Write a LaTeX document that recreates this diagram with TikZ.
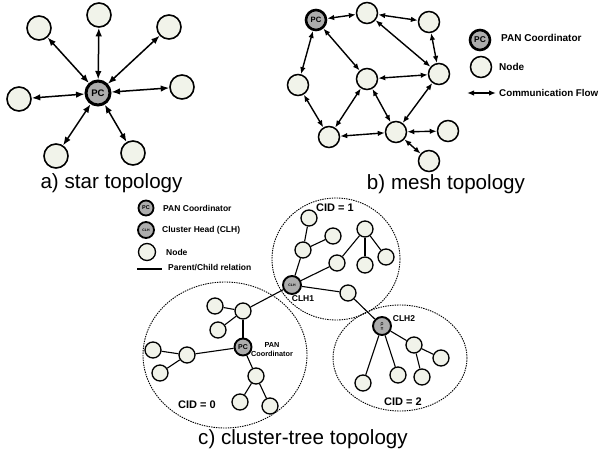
\documentclass[tikz,border=0pt]{standalone}
\usepackage{fontspec}
\setmainfont{Liberation Sans}
\usetikzlibrary{arrows.meta}
\definecolor{nodefill}{HTML}{F1F3EA}
\definecolor{pcfill}{HTML}{ADADAD}
\newcommand\topofont{\fontsize{20.6}{24}\selectfont}
\newcommand\legfont[1]{\bfseries\fontsize{#1}{#1}\selectfont}

\begin{document}
\begin{tikzpicture}[x=1pt,y=-1pt,
  nd/.style={circle,draw,line width=1.3pt,fill=nodefill,inner sep=0pt,minimum size=#1},
  nd/.default=16pt,
  hub/.style={circle,draw,line width=2.2pt,fill=pcfill,inner sep=0pt,minimum size=#1},
  hub/.default=16pt,
  flow/.style={{Latex[length=8.5pt,width=6.5pt]}-{Latex[length=8.5pt,width=6.5pt]},line width=1.5pt},
  mflow/.style={{Latex[length=7pt,width=5.5pt]}-{Latex[length=7pt,width=5.5pt]},line width=1.4pt},
  tie/.style={line width=1.1pt},
  cluster/.style={draw,line width=0.9pt,dash pattern=on 1.4pt off 1pt},
  lbl/.style={font=\legfont{8.5}},
  title/.style={anchor=base,font=\topofont}]
  \useasboundingbox (0,0) rectangle (602,452);

  % a) star
  \node[hub=24pt,line width=3pt,font=\legfont{9.5}] (spc) at (98,93) {PC};
  \node[nd=24pt,line width=1.6pt] (s1) at (39,28) {};
  \node[nd=24pt,line width=1.6pt] (s2) at (99,15) {};
  \node[nd=24pt,line width=1.6pt] (s3) at (169,27) {};
  \node[nd=24pt,line width=1.6pt] (s4) at (182,87) {};
  \node[nd=24pt,line width=1.6pt] (s5) at (133,153) {};
  \node[nd=24pt,line width=1.6pt] (s6) at (56,156) {};
  \node[nd=24pt,line width=1.6pt] (s7) at (19,99) {};
  \foreach \i in {1,...,7}
    \draw[flow] (spc) -- (s\i);
  \node[title] (ta) at (111.5,188) {a) star topology};

  % b) mesh
  \node[hub=20pt,line width=2.6pt,font=\legfont{7.7}] (mpc) at (316,20) {PC};
  \node[nd=21pt,line width=1.5pt] (m1) at (367,13) {};
  \node[nd=21pt,line width=1.5pt] (m2) at (429,22) {};
  \node[nd=21pt,line width=1.5pt] (m3) at (439,74) {};
  \node[nd=21pt,line width=1.5pt] (m4) at (367,79) {};
  \node[nd=21pt,line width=1.5pt] (m5) at (298,85) {};
  \node[nd=21pt,line width=1.5pt] (m6) at (329,137) {};
  \node[nd=21pt,line width=1.5pt] (m7) at (396,132) {};
  \node[nd=21pt,line width=1.5pt] (m8) at (448,131) {};
  \node[nd=21pt,line width=1.5pt] (m9) at (429,161) {};
  \foreach \a/\b in {mpc/m1,m1/m2,m2/m3,m1/m3,mpc/m4,mpc/m5,m4/m3,m5/m6,
                     m6/m4,m4/m7,m6/m7,m3/m7,m7/m8,m7/m9}
    \draw[mflow] (\a) -- (\b);
  \node[title] (tb) at (446,189) {b) mesh topology};

  % mesh legend
  \node[hub=20pt,line width=2.6pt,font=\legfont{8.4}] (lpc) at (480,40) {PC};
  \node[anchor=west,inner sep=0pt,font=\legfont{10}] (lpct) at (501,38) {PAN Coordinator};
  \node[nd=21pt,line width=1.5pt] (lnd) at (481,67) {};
  \node[anchor=west,inner sep=0pt,font=\legfont{10}] (lndt) at (499,67) {Node};
  \coordinate (fa) at (467,93);
  \coordinate (fb) at (496,93);
  \draw[mflow] (fa) -- (fb);
  \node[anchor=west,inner sep=0pt,font=\legfont{9.8}] (lflt) at (499,93) {Communication Flow};

  % c) cluster-tree legend
  \node[hub=15pt,line width=1.8pt,font=\legfont{5.5}] (kpc) at (146,208) {PC};
  \node[lbl,anchor=west,inner sep=0pt] (kpct) at (163,208) {PAN Coordinator};
  \node[hub=16pt,line width=1.8pt,font=\legfont{3.5}] (kclh) at (146,230) {CLH};
  \node[lbl,anchor=west,inner sep=0pt] (kclht) at (162,230) {Cluster Head (CLH)};
  \node[nd=17pt] (knd) at (147,252) {};
  \node[lbl,anchor=west,inner sep=0pt] (kndt) at (166,252) {Node};
  \coordinate (ka) at (137,269);
  \coordinate (kb) at (162,269);
  \draw[tie] (ka) -- (kb);
  \node[lbl,anchor=west,inner sep=0pt] (kpt) at (168,268) {Parent/Child relation};

  % clusters
  \draw[cluster] (225,355) ellipse [x radius=82,y radius=73];
  \draw[cluster] (336,259) ellipse [x radius=64,y radius=61];
  \draw[cluster] (400,358) ellipse [x radius=67,y radius=53];

  % CID = 0
  \node[hub=17pt,line width=1.9pt,font=\legfont{7}] (pc0) at (243,347) {PC};
  \node[nd] (t0a) at (243,311) {};
  \node[nd] (t0b) at (215,306) {};
  \node[nd] (t0c) at (218,330) {};
  \node[nd] (t0d) at (187,355) {};
  \node[nd] (t0e) at (153,350) {};
  \node[nd] (t0f) at (160,373) {};
  \node[nd] (t0g) at (256,376) {};
  \node[nd] (t0h) at (240,402) {};
  \node[nd] (t0i) at (270,406) {};
  \node[align=center,inner sep=0pt,font=\bfseries\fontsize{7.3}{9}\selectfont] (pc0t) at (272,349.5) {PAN\\Coordinator};
  \node[font=\legfont{11}] (cid0) at (197,405) {CID = 0};

  % CID = 1
  \node[hub=18pt,line width=1.9pt,font=\legfont{3.5}] (clh1) at (292,285) {CLH};
  \node[nd] (t1a) at (309,218) {};
  \node[nd] (t1b) at (303,250) {};
  \node[nd] (t1c) at (333,236) {};
  \node[nd] (t1d) at (337,263) {};
  \node[nd] (t1e) at (365,229) {};
  \node[nd] (t1f) at (365,265) {};
  \node[nd] (t1g) at (386,257) {};
  \node[nd] (t1h) at (348,293) {};
  \node[lbl] (clh1t) at (303,299) {CLH1};
  \node[font=\legfont{11}] (cid1) at (335,208) {CID = 1};

  % CID = 2
  \node[hub=18pt,line width=1.9pt] (clh2) at (382,326) {};
  \node[rotate=-90,inner sep=0pt,font=\legfont{3.5}] (clh2i) at (clh2) {CLH};
  \node[nd] (t2a) at (414,345) {};
  \node[nd] (t2b) at (441,358) {};
  \node[nd] (t2c) at (422,377) {};
  \node[nd] (t2d) at (398,375) {};
  \node[nd] (t2e) at (363,383) {};
  \node[lbl] (clh2t) at (404,319) {CLH2};
  \node[font=\legfont{11}] (cid2) at (403,402) {CID = 2};

  \foreach \a/\b in {pc0/t0a,t0a/t0b,t0a/t0c,t0a/clh1,pc0/t0d,t0d/t0e,t0d/t0f,
                     pc0/t0g,t0g/t0h,t0g/t0i,
                     clh1/t1b,t1b/t1a,t1b/t1c,clh1/t1d,t1d/t1e,t1e/t1f,t1e/t1g,
                     clh1/t1h,t1h/clh2,
                     clh2/t2a,t2a/t2b,t2a/t2c,clh2/t2d,clh2/t2e}
    \draw[tie] (\a) -- (\b);

  \node[title] (tc) at (303,444) {c) cluster-tree topology};
\end{tikzpicture}
\end{document}
